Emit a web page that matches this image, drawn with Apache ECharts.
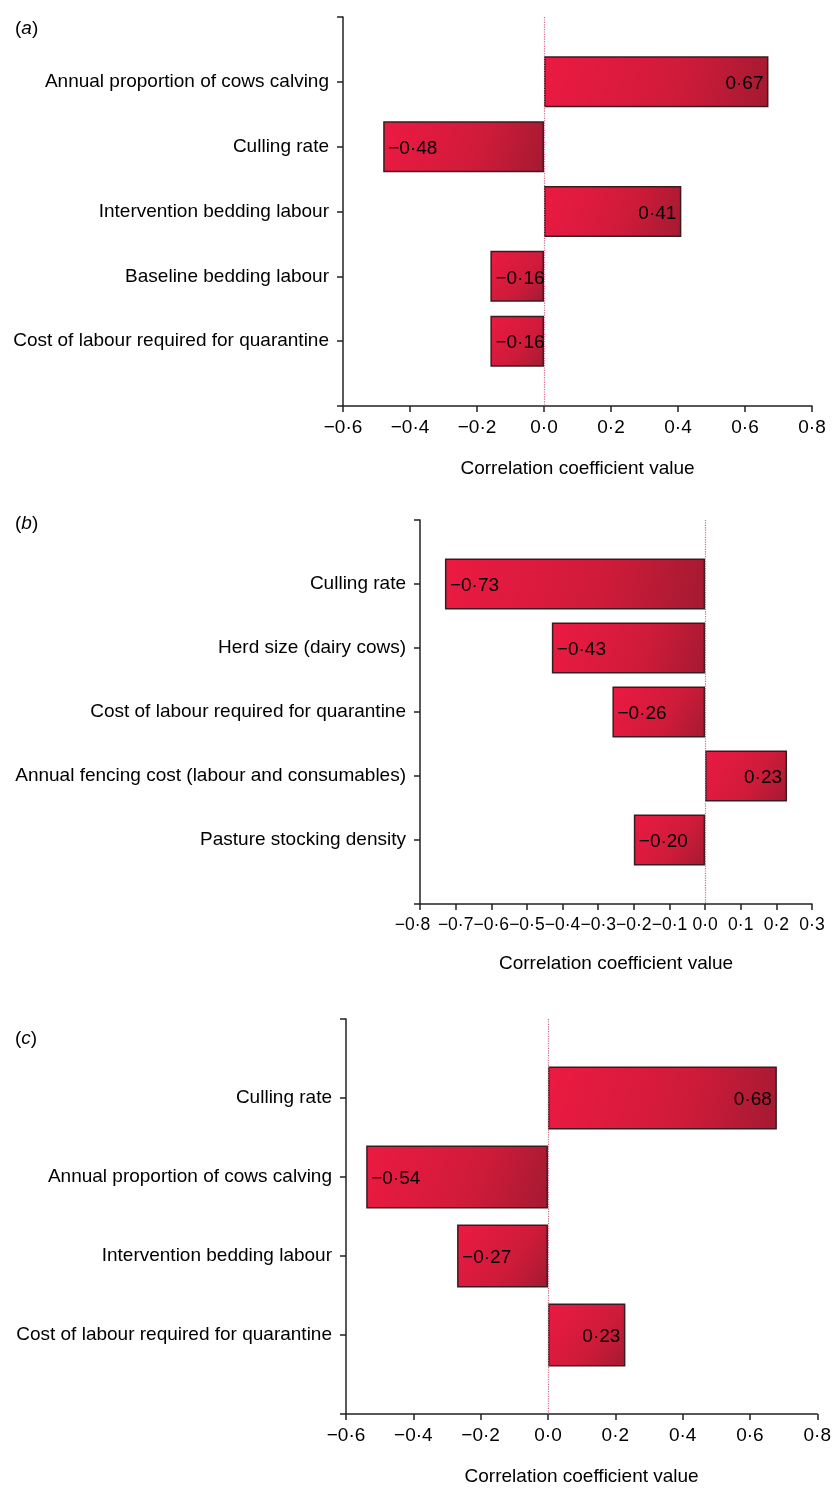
<!DOCTYPE html>
<html>
<head>
<meta charset="utf-8">
<script src="https://cdn.jsdelivr.net/npm/echarts@6/dist/echarts.min.js"></script>
<style>
html,body{margin:0;padding:0;background:#fff;}
#chart{width:834px;height:1488px;}
</style>
</head>
<body>
<div id="chart"></div>
<script>
// ---- Data ----
const catsA = ['Annual proportion of cows calving', 'Culling rate', 'Intervention bedding labour', 'Baseline bedding labour', 'Cost of labour required for quarantine'];
const valsA = [0.67, -0.48, 0.41, -0.16, -0.16];

const catsB = ['Culling rate', 'Herd size (dairy cows)', 'Cost of labour required for quarantine', 'Annual fencing cost (labour and consumables)', 'Pasture stocking density'];
const valsB = [-0.73, -0.43, -0.26, 0.23, -0.20];

const catsC = ['Culling rate', 'Annual proportion of cows calving', 'Intervention bedding labour', 'Cost of labour required for quarantine'];
const valsC = [0.68, -0.54, -0.27, 0.23];

const axisA = {min: -0.6, max: 0.8, interval: 0.2};
const axisB = {min: -0.8, max: 0.3, interval: 0.1};
const axisC = {min: -0.6, max: 0.8, interval: 0.2};

const panelLabels = ['a', 'b', 'c'];
const xTitle = 'Correlation coefficient value';

// ---- Helpers ----
const FONT = "'Liberation Sans', Arial, Helvetica, sans-serif";
const FS = 19;
function fmt(v, digits) {
  if (Math.abs(v) < 1e-9) v = 0;
  let s = Math.abs(v).toFixed(digits).replace('.', '\u00B7');
  return (v < 0 ? '\u2212' : '') + s;
}
function padCats(c) { return [''].concat(c, ['']); }
function padVals(v) {
  const out = [null];
  v.forEach(x => out.push({
    value: x,
    label: {position: x >= 0 ? 'insideRight' : 'insideLeft'}
  }));
  out.push(null);
  return out;
}

const grids = [
  {left: 343, top: 17, width: 469, height: 389},
  {left: 420, top: 520, width: 392, height: 384},
  {left: 346, top: 1019, width: 473, height: 395}
];
const axes = [axisA, axisB, axisC];
const cats = [catsA, catsB, catsC];
const vals = [valsA, valsB, valsC];
const barW = [51, 51, 63];
const nameGaps = [53, 50, 53];
const labelTops = [14, 509, 1024];
const tickFS = [19, 17.5, 19];
const minShift = [0, 15, 0];

const axisLineStyle = {color: '#222', width: 1.5};

const option = {
  animation: false,
  backgroundColor: '#fff',
  textStyle: {fontFamily: FONT},
  title: panelLabels.map((p, i) => ({
    text: '(' + '{i|' + p + '})',
    left: 10,
    top: labelTops[i],
    textStyle: {
      fontFamily: FONT, fontSize: FS, fontWeight: 'normal', color: '#000',
      rich: {i: {fontFamily: FONT, fontSize: FS, fontStyle: 'italic', color: '#000'}}
    }
  })),
  grid: grids,
  xAxis: axes.map((a, i) => ({
    type: 'value',
    gridIndex: i,
    min: a.min, max: a.max, interval: a.interval,
    name: xTitle,
    nameLocation: 'middle',
    nameGap: nameGaps[i],
    nameTextStyle: {fontFamily: FONT, fontSize: FS, color: '#000'},
    axisLine: {show: true, onZero: false, lineStyle: axisLineStyle},
    axisTick: {show: true, length: 6, lineStyle: axisLineStyle},
    axisLabel: {
      fontFamily: FONT, fontSize: tickFS[i], color: '#000', margin: 12,
      showMinLabel: true, showMaxLabel: true, hideOverlap: false,
      formatter: v => (minShift[i] && Math.abs(v - a.min) < 1e-9) ? '{m|' + fmt(v, 1) + '}' : fmt(v, 1),
      rich: {m: {fontFamily: FONT, fontSize: tickFS[i], color: '#000', padding: [0, minShift[i], 0, 0]}}
    },
    splitLine: {show: false}
  })),
  yAxis: cats.map((c, i) => ({
    type: 'category',
    gridIndex: i,
    inverse: true,
    boundaryGap: false,
    data: padCats(c),
    axisLine: {show: true, onZero: false, lineStyle: axisLineStyle},
    axisTick: {show: true, length: 6, interval: 0, lineStyle: axisLineStyle},
    axisLabel: {fontFamily: FONT, fontSize: FS, color: '#000', margin: 14, interval: 0},
    splitLine: {show: false}
  })),
  series: vals.map((v, i) => ({
    type: 'bar',
    xAxisIndex: i,
    yAxisIndex: i,
    barWidth: barW[i],
    data: padVals(v),
    itemStyle: {
      color: {
        type: 'linear', x: 0, y: 0, x2: 1, y2: 1,
        colorStops: [
          {offset: 0, color: '#ec1a42'},
          {offset: 0.6, color: '#cf1b3a'},
          {offset: 1, color: '#a41a31'}
        ]
      },
      borderColor: '#3a1c20',
      borderWidth: 1.5
    },
    label: {
      show: true,
      fontFamily: FONT,
      fontSize: FS,
      color: '#000',
      distance: 5,
      offset: [0, 2],
      formatter: p => fmt(p.value, 2)
    },
    markLine: {
      silent: true,
      symbol: 'none',
      label: {show: false},
      lineStyle: {type: 'dotted', color: '#d06a86', width: 1.2},
      data: [{xAxis: 0}]
    }
  }))
};

const chart = echarts.init(document.getElementById('chart'), null, {renderer: 'canvas'});
chart.setOption(option);
</script>
</body>
</html>
